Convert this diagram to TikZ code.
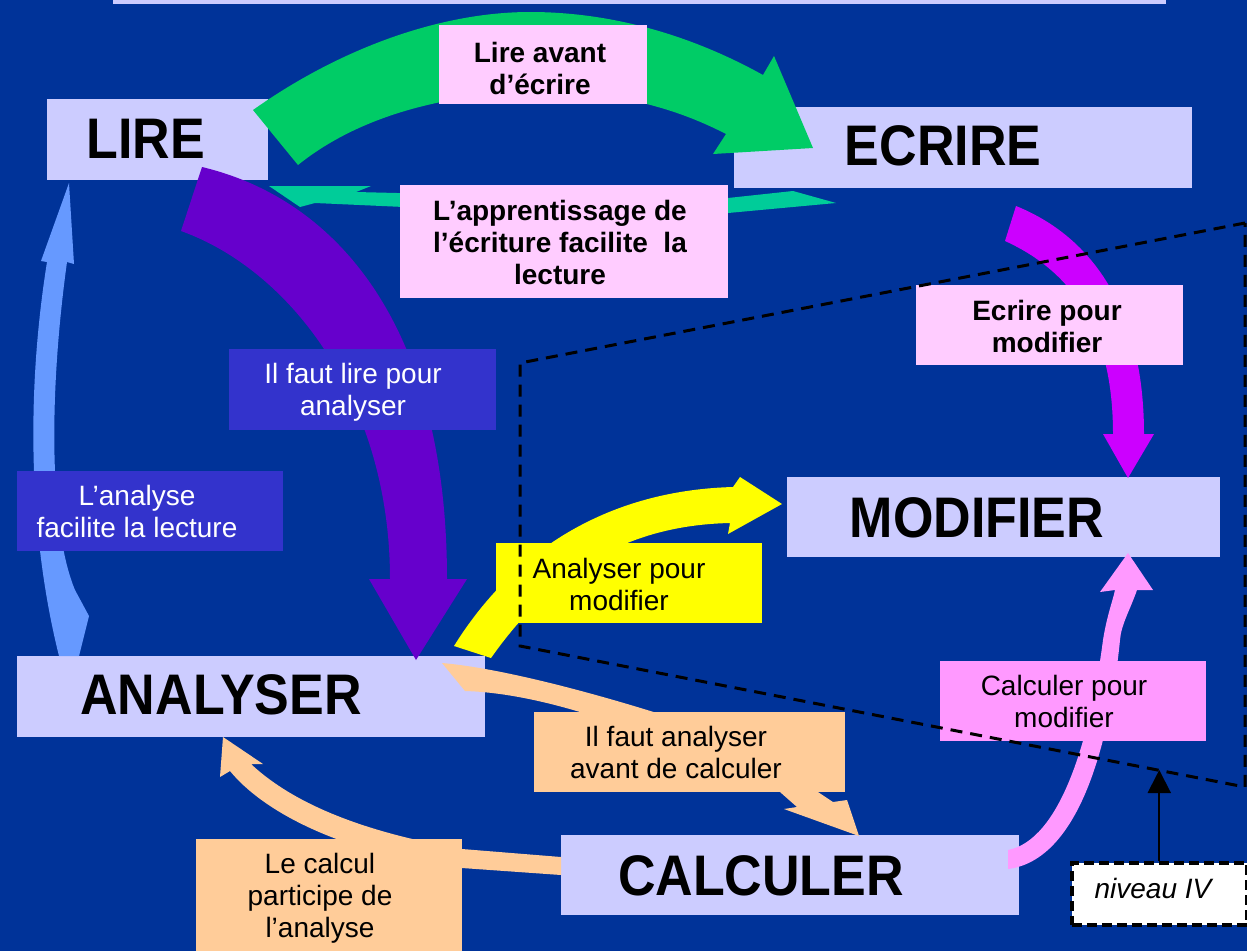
\documentclass[tikz,border=0pt]{standalone}
\usepackage{fontspec}
\setmainfont{Liberation Sans}
\usetikzlibrary{arrows.meta}
\definecolor{bgc}{HTML}{003399}
\definecolor{boxc}{HTML}{CCCCFF}
\definecolor{pinkc}{HTML}{FFCCFF}
\definecolor{bluec}{HTML}{3333CC}
\definecolor{yellowc}{HTML}{FFFF00}
\definecolor{orangec}{HTML}{FFCC99}
\definecolor{pinkd}{HTML}{FF99FF}
\definecolor{greenc}{HTML}{00CC66}
\definecolor{tealc}{HTML}{00CC99}
\definecolor{purplec}{HTML}{6600CC}
\definecolor{lbluec}{HTML}{6699FF}
\definecolor{magc}{HTML}{CC00FF}
\begin{document}
\begin{tikzpicture}[x=1pt,y=-1pt,
  nbox/.style={fill=boxc, draw=none, inner sep=0pt, anchor=north west},
  lbox/.style={draw=none, inner sep=0pt, anchor=north west},
  nametxt/.style={font=\bfseries\fontsize{52}{60}\selectfont, inner sep=0pt, anchor=base},
  lbl/.style={font=\fontsize{28}{32}\selectfont, align=center, inner sep=0pt},
  lblb/.style={font=\bfseries\fontsize{28}{32}\selectfont, align=center, inner sep=0pt},
  dashline/.style={draw=black, line width=3pt, dash pattern=on 12pt off 8pt}
]
\useasboundingbox (0,0) rectangle (1247,951);
\fill[bgc] (0,0) rectangle (1247,951);
\fill[boxc] (113,0) rectangle (1166,4);

% main boxes
\node[nbox, minimum width=221pt, minimum height=81pt] (lire) at (47,99) {};
\node[nbox, minimum width=458pt, minimum height=81pt] (ecrire) at (734,107) {};
\node[nbox, minimum width=433pt, minimum height=80pt] (modifier) at (787,477) {};
\node[nbox, minimum width=468pt, minimum height=81pt] (analyser) at (17,656) {};
\node[nbox, minimum width=458pt, minimum height=80pt] (calculer) at (561,835) {};

\node[nametxt] (lireT) at (145.5,158) {\scalebox{1}[1.1]{LIRE}};
\node[nametxt] (ecrireT) at (943,165) {\scalebox{1}[1.1]{ECRIRE}};
\node[nametxt] (modifierT) at (977,537) {\scalebox{1}[1.1]{MODIFIER}};
\node[nametxt] (analyserT) at (221,714) {\scalebox{1}[1.1]{ANALYSER}};
\node[nametxt] (calculerT) at (761,895) {\scalebox{1}[1.1]{CALCULER}};

% block arrows
\fill[purplec] (202,167) .. controls (340,200) and (447,330) .. (447,579) -- (467,579) -- (416,660) -- (369,579) -- (390,579) .. controls (390,400) and (290,270) .. (181,231) -- cycle;
\fill[tealc] (269,186) -- (371,186) -- (356,192) -- (560,197) -- (728,198) -- (793,191) -- (836,203) -- (728,213) -- (560,214) -- (315,203) -- (300,207) -- cycle;
\fill[greenc] (253,110) .. controls (345,45) and (445,12) .. (530,12) .. controls (620,12) and (700,40) .. (763,75) -- (774,56) -- (813,148) -- (713,154) -- (726,134) .. controls (670,105) and (610,92) .. (545,92) .. controls (450,92) and (360,115) .. (298,165) -- cycle;
\fill[lbluec] (69,183) -- (74,264) -- (67,262) .. controls (48,400) and (50,530) .. (75,590) -- (89,616) -- (79,656) -- (59,656) .. controls (30,540) and (25,400) .. (47,262) -- (41,261) -- cycle;
\fill[magc] (1016,206) .. controls (1100,240) and (1144,320) .. (1144,434) -- (1154,434) -- (1128,478) -- (1103,434) -- (1113,434) .. controls (1113,340) and (1080,275) .. (1005,241) -- cycle;
\fill[yellowc] (454,646) .. controls (520,540) and (620,490) .. (733,487) -- (740,477) -- (782,504) -- (728,534) -- (730,523) .. controls (640,525) and (560,560) .. (491,658) -- cycle;
\fill[orangec] (442,663) .. controls (500,668) and (590,692) .. (660,714) -- (780,792) -- (797,807) -- (784,809) -- (859,836) -- (847,800) -- (833,802) -- (815,790) -- (580,712) .. controls (540,700) and (500,692) .. (465,691) -- cycle;
\fill[orangec] (223,737) -- (263,764) -- (251,764) .. controls (300,810) and (380,835) .. (462,849) -- (561,857) -- (561,875) -- (462,868) -- (420,862) .. controls (330,845) and (262,810) .. (230,771) -- (220,777) -- cycle;
\fill[pinkd] (1008,850) .. controls (1060,840) and (1090,740) .. (1103,640) .. controls (1107,615) and (1113,600) .. (1115,590) -- (1100,592) -- (1128,553) -- (1153,590) -- (1137,590) .. controls (1130,610) and (1121,625) .. (1120,640) .. controls (1110,740) and (1080,860) .. (1008,869) -- cycle;

% label boxes
\node[lbox, fill=pinkc, minimum width=208pt, minimum height=79pt] (lab1) at (439,25) {};
\node[lbox, fill=pinkc, minimum width=328pt, minimum height=113pt] (lab2) at (400,185) {};
\node[lbox, fill=bluec, minimum width=267pt, minimum height=81pt] (lab3) at (229,349) {};
\node[lbox, fill=bluec, minimum width=266pt, minimum height=80pt] (lab4) at (17,471) {};
\node[lbox, fill=pinkc, minimum width=267pt, minimum height=80pt] (lab5) at (916,285) {};
\node[lbox, fill=yellowc, minimum width=266pt, minimum height=80pt] (lab6) at (496,543) {};
\node[lbox, fill=pinkd, minimum width=266pt, minimum height=80pt] (lab7) at (940,661) {};
\node[lbox, fill=orangec, minimum width=311pt, minimum height=80pt] (lab8) at (534,712) {};
\node[lbox, fill=orangec, minimum width=266pt, minimum height=112pt] (lab9) at (196,839) {};

\node[lblb] (lab1t) at (540,68) {Lire avant\\d’écrire};
\node[lblb] (lab2t) at (560,242) {L’apprentissage de\\l’écriture facilite~ la\\lecture};
\node[lbl, text=white] (lab3t) at (353,392) {Il faut lire pour\\analyser};
\node[lbl, text=white] (lab4t) at (137,511) {L’analyse\\facilite la lecture};
\node[lblb] (lab5t) at (1047,326) {Ecrire pour\\modifier};
\node[lbl] (lab6t) at (619,584) {Analyser pour\\modifier};
\node[lbl] (lab7t) at (1064,701) {Calculer pour\\modifier};
\node[lbl] (lab8t) at (676,752) {Il faut analyser\\avant de calculer};
\node[lbl] (lab9t) at (320,898) {Le calcul\\participe de\\l’analyse};

% dashed region
\draw[dashline] (1245,223) -- (520,363) -- (520,646) -- (1245,787) -- cycle;

% niveau IV
\node[lbox, fill=white, draw=black, line width=3.5pt, dash pattern=on 10pt off 5pt, minimum width=175pt, minimum height=62pt] (niv) at (1070,861) {};
\node[lbl, font=\itshape\fontsize{28}{32}\selectfont] (nivt) at (1153,888) {niveau IV};
\coordinate (lvl) at (niv.north |- 0,770);
\draw[line width=2pt, -{Triangle[length=23pt,width=23pt]}] (niv.north) -- (lvl);
\end{tikzpicture}
\end{document}
